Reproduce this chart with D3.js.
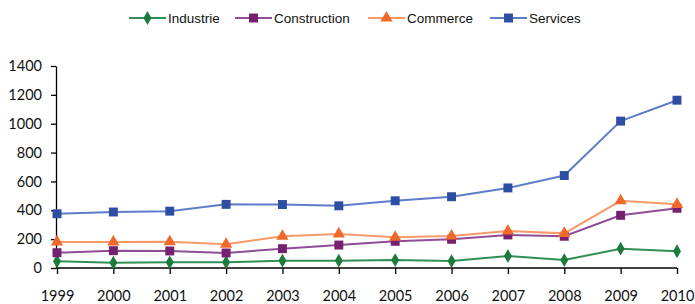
<!DOCTYPE html>
<html>
<head>
<meta charset="utf-8">
<script src="https://cdn.jsdelivr.net/npm/d3@7"></script>
<style>
  body { margin: 0; background: #fff; }
</style>
</head>
<body>
<script>
const w = 695;
const h = 304;

// data
const years = [1999, 2000, 2001, 2002, 2003, 2004, 2005, 2006, 2007, 2008, 2009, 2010];
const industrie = [46, 37, 39, 39, 51, 51, 55, 48, 83, 55, 134, 116];
const construction = [106, 120, 118, 104, 134, 159, 185, 199, 229, 220, 365, 414];
const commerce = [181, 181, 182, 164, 220, 236, 213, 222, 256, 240, 466, 441];
const services = [376, 388, 394, 441, 440, 431, 466, 494, 555, 641, 1018, 1163];
const yTicks = [0, 200, 400, 600, 800, 1000, 1200, 1400];

const series = [
  { name: "Industrie", values: industrie, line: "#2f8f55", fill: "#1b7a3c", shape: d3.symbolDiamond, size: 55 },
  { name: "Construction", values: construction, line: "#8f4d97", fill: "#74216f", shape: d3.symbolSquare, size: 80 },
  { name: "Commerce", values: commerce, line: "#f7996a", fill: "#f0692b", shape: d3.symbolTriangle, size: 65 },
  { name: "Services", values: services, line: "#5f7cc8", fill: "#2e4ea3", shape: d3.symbolSquare, size: 80 }
];

let svg = d3.select("body").append("svg")
    .attr("width", w)
    .attr("height", h);

var x = d3.scaleLinear()
    .domain([1999, 2010])
    .range([57, 677]);

var y = d3.scaleLinear()
    .domain([0, 1400])
    .range([268, 66]);

// y axis
var yAxis = svg.append("g")
    .attr("transform", "translate(56,0)")
    .call(d3.axisLeft(y).tickValues(yTicks).tickFormat(d3.format("d")).tickSize(5).tickPadding(9).tickSizeOuter(0));
yAxis.select(".domain").attr("stroke", "#000").attr("stroke-width", 1.3);
yAxis.selectAll("line").attr("stroke", "#000").attr("stroke-width", 1.3);
yAxis.selectAll("text")
    .attr("font-family", "Lato, 'DejaVu Sans', sans-serif")
    .attr("font-size", 14.5)
    .attr("fill", "#111");

// x axis
var xAxis = svg.append("g")
    .attr("transform", "translate(0,268)")
    .call(d3.axisBottom(x).tickValues(years).tickFormat(d3.format("d")).tickSize(6).tickPadding(17).tickSizeOuter(0));
xAxis.select(".domain").attr("stroke", "#000").attr("stroke-width", 1.3).attr("d", "M56,0H677");
xAxis.selectAll("line").attr("stroke", "#000").attr("stroke-width", 1.3);
xAxis.selectAll("text")
    .attr("font-family", "Lato, 'DejaVu Sans', sans-serif")
    .attr("font-size", 14.5)
    .attr("fill", "#111");

// lines and markers
series.forEach(function (s) {
    var pts = years.map(function (yr, i) { return [yr, s.values[i]]; });
    svg.append("path")
        .datum(pts)
        .attr("fill", "none")
        .attr("stroke", s.line)
        .attr("stroke-width", 2)
        .attr("d", d3.line()
            .x(function (d) { return x(d[0]); })
            .y(function (d) { return y(d[1]); }));
    svg.selectAll(null)
        .data(pts)
        .enter().append("path")
        .attr("transform", function (d) { return "translate(" + x(d[0]) + "," + y(d[1]) + ")"; })
        .attr("d", d3.symbol().type(s.shape).size(s.size))
        .attr("fill", s.fill);
});

// legend
const legendX = [129, 235, 368, 490];
var legend = svg.append("g");
series.forEach(function (s, i) {
    var g = legend.append("g").attr("transform", "translate(" + legendX[i] + ",18)");
    g.append("line")
        .attr("x1", 0).attr("x2", 37)
        .attr("stroke", s.line).attr("stroke-width", 2);
    g.append("path")
        .attr("transform", "translate(18.5,0)")
        .attr("d", d3.symbol().type(s.shape).size(s.size))
        .attr("fill", s.fill);
    g.append("text")
        .attr("x", 39).attr("y", 4.5)
        .attr("font-family", "'Liberation Sans Narrow', 'Liberation Sans', sans-serif")
        .attr("font-size", 13.5)
        .attr("fill", "#111")
        .text(s.name);
});
</script>
</body>
</html>
